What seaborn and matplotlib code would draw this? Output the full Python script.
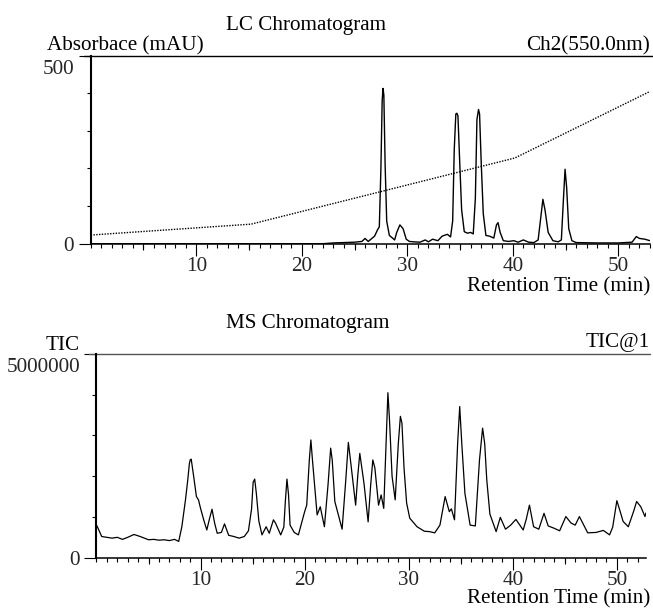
import matplotlib
matplotlib.use("Agg")
import numpy as np
import pandas as pd
import matplotlib.pyplot as plt
import seaborn as sns
from matplotlib.ticker import MultipleLocator, FixedLocator, NullFormatter
from matplotlib.transforms import ScaledTranslation

# ---------------- data ----------------
lc_time = [0, 22, 23, 24, 25, 25.7, 26.0, 26.3, 26.9, 27.2, 27.35, 27.5, 27.62, 27.7,
           27.78, 27.9, 28.05, 28.3, 28.6, 28.8, 29.0, 29.3, 29.6, 29.9, 30.2, 30.6,
           31.2, 31.7, 32.0, 32.4, 32.9, 33.3, 33.8, 34.1, 34.3, 34.45, 34.6, 34.7,
           34.8, 34.95, 35.15, 35.4, 35.7, 36.0, 36.25, 36.45, 36.6, 36.75, 36.85,
           37.0, 37.2, 37.45, 37.8, 38.2, 38.45, 38.6, 38.8, 39.1, 39.6, 40.1, 40.5,
           41.0, 41.5, 42.0, 42.4, 42.65, 42.85, 43.05, 43.35, 43.8, 44.3, 44.6,
           44.8, 44.95, 45.1, 45.3, 45.6, 46.0, 48.0, 50.0, 51.3, 51.7, 52.0, 52.5, 53.0]
lc_abs = [0, 0, 2, 3, 4, 6, 14, 6, 20, 38, 45, 200, 380, 413,
          395, 210, 60, 22, 15, 10, 30, 50, 40, 12, 6, 5,
          4, 10, 5, 12, 8, 20, 25, 18, 60, 250, 345, 347,
          340, 230, 90, 32, 28, 30, 26, 120, 330, 357,
          345, 220, 80, 22, 20, 15, 50, 56, 30, 8, 6, 8, 4,
          10, 4, 3, 10, 70, 118, 90, 30, 8, 5, 10,
          120, 198, 150, 40, 8, 3, 2, 2, 4, 19, 14, 12, 8]

gradient_time = [0, 15.2, 40.2, 53.0]
gradient_abs = [23, 52, 228, 405]

ms_time = [0.0, 0.1, 0.5, 1.0, 1.5, 2.0, 2.5, 3.0, 3.6, 4.2, 5.0, 5.5, 6.0, 6.5, 7.0,
           7.5, 7.9, 8.2, 8.55, 8.77, 8.92, 9.0, 9.1, 9.34, 9.6, 9.8, 10.0, 10.3,
           10.6, 10.85, 11.1, 11.35, 11.6, 12.0, 12.3, 12.7, 13.2, 13.7, 14.2, 14.6,
           14.9, 15.05, 15.2, 15.35, 15.6, 15.9, 16.3, 16.6, 17.0, 17.2, 17.7, 18.0,
           18.15, 18.3, 18.45, 18.6, 19.0, 19.4, 20.0, 20.2, 20.45, 20.6, 20.75, 21.0,
           21.2, 21.5, 21.9, 22.25, 22.5, 22.65, 22.9, 23.6, 23.95, 24.2, 24.4, 24.9,
           25.1, 25.3, 25.7, 26.1, 26.35, 26.55, 26.75, 27.1, 27.35, 27.6, 27.8, 28.0,
           28.15, 28.4, 28.7, 29.0, 29.2, 29.35, 29.55, 29.8, 30.1, 30.8, 31.5, 32.0,
           32.5, 33.0, 33.5, 33.9, 34.1, 34.4, 34.7, 34.9, 35.1, 35.4, 35.9, 36.4,
           36.8, 37.1, 37.3, 37.5, 37.8, 38.4, 38.8, 39.3, 39.8, 40.3, 41.0, 41.3,
           41.6, 42.0, 42.5, 43.0, 43.4, 44.0, 44.5, 45.1, 45.6, 46.0, 46.4, 47.2,
           48.0, 48.7, 49.3, 49.6, 50.0, 50.3, 50.6, 51.1, 51.6, 51.9, 52.3, 52.7, 52.8]
ms_tic = [0.80, 0.75, 0.52, 0.50, 0.48, 0.50, 0.45, 0.50, 0.57, 0.52, 0.44, 0.45, 0.43,
          0.44, 0.42, 0.45, 0.40, 0.76, 1.42, 1.91, 2.30, 2.40, 2.42, 1.99, 1.50, 1.42,
          1.21, 0.93, 0.68, 0.95, 1.19, 0.85, 0.60, 0.62, 0.83, 0.55, 0.52, 0.48, 0.52,
          0.66, 1.20, 1.85, 1.93, 1.60, 0.90, 0.56, 0.76, 0.60, 0.93, 0.85, 0.56, 0.75,
          1.40, 1.93, 1.55, 0.80, 0.62, 0.56, 1.13, 1.29, 2.40, 2.89, 2.40, 1.66, 1.05,
          1.25, 0.76, 1.80, 2.69, 2.40, 1.38, 0.70, 1.90, 2.83, 2.40, 1.29, 2.00, 2.56,
          1.83, 0.88, 1.80, 2.40, 2.20, 1.29, 1.54, 1.21, 2.60, 4.05, 3.40, 2.00, 1.42,
          2.80, 3.47, 3.30, 2.20, 1.34, 0.97, 0.76, 0.65, 0.64, 0.61, 0.80, 1.50, 1.13,
          1.20, 0.93, 2.80, 3.71, 2.80, 1.58, 0.80, 0.78, 2.40, 3.18, 2.80, 1.91, 1.07,
          0.64, 0.99, 0.70, 0.80, 0.94, 0.68, 0.95, 1.29, 0.76, 0.70, 1.09, 0.78, 0.72,
          0.66, 1.01, 0.85, 0.80, 1.01, 0.61, 0.62, 0.67, 0.56, 0.75, 1.40, 1.15, 0.89,
          0.76, 1.13, 1.38, 1.25, 1.01, 1.10]
ms_tic = [v * 1e6 for v in ms_tic]

lc_df = pd.DataFrame({"time": lc_time, "abs": lc_abs})
grad_df = pd.DataFrame({"time": gradient_time, "abs": gradient_abs})
ms_df = pd.DataFrame({"time": ms_time, "tic": ms_tic})

# ---------------- style ----------------
sns.set_theme(style="ticks")
plt.rcParams["font.family"] = ["Liberation Serif", "DejaVu Serif"]
FS = 15.2
W, H = 653, 608

fig = plt.figure(figsize=(W / 100, H / 100), dpi=100)
fig.patch.set_facecolor("white")


def px(x, y):
    return x / W, 1 - y / H


def axes_rect(l, r, t, b):
    return [l / W, 1 - b / H, (r - l) / W, (b - t) / H]


ax1 = fig.add_axes(axes_rect(90.7, 650, 55.7, 243.7))
ax2 = fig.add_axes(axes_rect(96.5, 646, 354, 557.7))

sns.lineplot(data=lc_df, x="time", y="abs", ax=ax1, color="black", lw=1.0,
             estimator=None, sort=False)
sns.lineplot(data=grad_df, x="time", y="abs", ax=ax1, color="black", lw=1.0,
             linestyle=(0, (1, 1)), estimator=None, sort=False)
sns.lineplot(data=ms_df, x="time", y="tic", ax=ax2, color="black", lw=0.9,
             estimator=None, sort=False)


def style_axes(ax, xmax, ymax, ylabels, topcolor, axw):
    ax.set_facecolor("white")
    ax.set_xlim(0, xmax)
    ax.set_ylim(0, ymax)
    ax.set_xlabel("")
    ax.set_ylabel("")
    for s in ["top", "right"]:
        ax.spines[s].set_visible(False)
    ax.spines["left"].set_linewidth(1.5)
    ax.spines["bottom"].set_linewidth(1.1)
    ax.spines["left"].set_color("black")
    ax.spines["bottom"].set_color("black")
    # top frame line
    ax.plot([-7 / axw, 1 + 4 / axw], [1, 1], transform=ax.transAxes,
            clip_on=False, color=topcolor, lw=1.0)
    ax.xaxis.set_major_locator(FixedLocator([10, 20, 30, 40, 50]))
    ax.xaxis.set_minor_locator(MultipleLocator(1))
    ax.yaxis.set_major_locator(FixedLocator([0, ymax]))
    ax.yaxis.set_minor_locator(FixedLocator([ymax * k / 5 for k in range(1, 5)]))
    ax.set_yticklabels(ylabels)
    ax.set_xticklabels(["10", "20", "30", "40", "50"])
    ax.tick_params(axis="x", which="major", direction="out", length=8.6, width=0.8,
                   pad=1, labelsize=FS, color="black")
    ax.tick_params(axis="x", which="minor", direction="out", length=2.9, width=0.8,
                   color="black")
    ax.tick_params(axis="y", which="major", direction="out", length=9.0, width=0.8,
                   pad=3, labelsize=FS, color="black")
    ax.tick_params(axis="y", which="minor", direction="out", length=2.9, width=0.8,
                   color="black")
    # mid ticks at 5, 15, ...
    sec = ax.secondary_xaxis("bottom")
    sec.set_xticks([5, 15, 25, 35, 45])
    sec.xaxis.set_major_formatter(NullFormatter())
    sec.tick_params(axis="x", direction="out", length=4.6, width=0.8, color="black")
    sec.spines["bottom"].set_visible(False)
    # shift the top y label down
    labs = ax.get_yticklabels()
    labs[1].set_transform(labs[1].get_transform() +
                          ScaledTranslation(0, -11 / 100, fig.dpi_scale_trans))
    for t in ax.get_xticklabels() + ax.get_yticklabels():
        t.set_fontsize(FS)


style_axes(ax1, 53.0, 500, ["0", "500"], "black", 650 - 90.7)
style_axes(ax2, 52.8, 5e6, ["0", "5000000"], "#555555", 646 - 96.5)

# ---------------- texts ----------------
def ftext(x, y, s, ha):
    fig.text(*px(x, y), s, ha=ha, va="baseline", fontsize=FS, color="black")


ftext(306, 30, "LC Chromatogram", "center")
ftext(47, 50, "Absorbace (mAU)", "left")
ftext(650, 50, "Ch2(550.0nm)", "right")
ftext(650, 291, "Retention Time (min)", "right")
ftext(308, 328, "MS Chromatogram", "center")
ftext(63, 350, "TIC", "center")
ftext(650, 347, "TIC@1", "right")
ftext(650, 603, "Retention Time (min)", "right")

fig.savefig("out.png", dpi=100, facecolor="white")
